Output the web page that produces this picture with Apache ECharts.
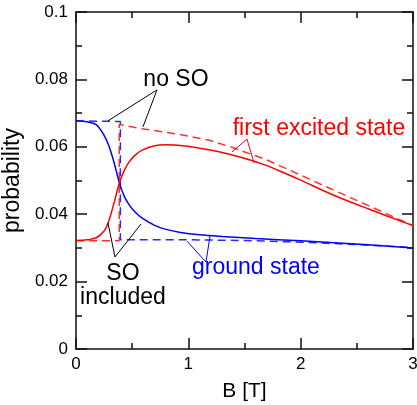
<!DOCTYPE html>
<html><head><meta charset="utf-8">
<script src="https://cdn.jsdelivr.net/npm/echarts@6/dist/echarts.min.js"></script>
<style>html,body{margin:0;padding:0;background:#fff}#c{width:417px;height:405px}</style>
</head><body><div id="c"></div>
<script>
const FONT = '"Liberation Sans", Arial, Helvetica, sans-serif';

// axis ranges / ticks
const xRange = [0, 3];
const yRange = [0, 0.1];
const xInterval = 1;
const yInterval = 0.02;

// ground state, SO included (blue solid)
const groundSO_B = [0, 0.1, 0.18, 0.25, 0.29, 0.34, 0.386, 0.43, 0.475, 0.53, 0.59, 0.7, 0.8, 0.93, 1.1, 1.3, 1.6, 2.0, 2.3, 2.6, 3.0];
const groundSO_P = [0.0677, 0.0674, 0.0666, 0.0634, 0.0605, 0.0552, 0.0493, 0.0453, 0.0427, 0.0405, 0.0388, 0.0367, 0.0355, 0.0346, 0.0339, 0.0334, 0.0328, 0.0321, 0.0315, 0.0309, 0.0300];

// first excited state, SO included (red solid)
const excSO_B = [0, 0.1, 0.18, 0.25, 0.29, 0.34, 0.386, 0.43, 0.475, 0.53, 0.59, 0.7, 0.8, 0.95, 1.1, 1.25, 1.4, 1.55, 1.7, 1.85, 2.0, 2.29, 2.6, 3.0];
const excSO_P = [0.0322, 0.0324, 0.0330, 0.0350, 0.0378, 0.0435, 0.0493, 0.0530, 0.0556, 0.0576, 0.0590, 0.0603, 0.0606, 0.0603, 0.0596, 0.0587, 0.0575, 0.0561, 0.0544, 0.0523, 0.0501, 0.0457, 0.0416, 0.0366];

// ground state, no SO (blue dashed)
const groundNoSO_B = [0, 0.395, 0.395, 1.0, 1.5, 2.0, 2.5, 3.0];
const groundNoSO_P = [0.0677, 0.0675, 0.0324, 0.0324, 0.0322, 0.0317, 0.0310, 0.0301];

// first excited state, no SO (red dashed)
const excNoSO_B = [0, 0.385, 0.385, 0.6, 0.9, 1.18, 1.4, 1.7, 2.0, 2.29, 2.6, 3.0];
const excNoSO_P = [0.0321, 0.0321, 0.0666, 0.0653, 0.0638, 0.0620, 0.0597, 0.0561, 0.0516, 0.0472, 0.0426, 0.0366];

// annotation leader lines (data coordinates: end -> apex -> end)
const noSO_lead = [[0.285, 0.0677], [0.721, 0.0769], [0.596, 0.0659]];
const SOinc_lead = [[0.285, 0.0374], [0.347, 0.0273], [0.579, 0.0371]];
const exc_lead = [[1.389, 0.0585], [1.522, 0.0623], [1.585, 0.0552]];
const gnd_lead = [[0.988, 0.0320], [1.157, 0.0258], [1.193, 0.0335]];

// annotation texts (centre positions, data coordinates)
const labels = [
  {text: 'no SO', at: [0.89, 0.0798], color: '#000'},
  {text: 'first excited state', at: [2.163, 0.0653], color: '#ff0000'},
  {text: 'ground state', at: [1.602, 0.0240], color: '#0000ff'},
  {text: 'SO', at: [0.418, 0.0223], color: '#000'},
  {text: 'included', at: [0.418, 0.0151], color: '#000'}
];

const zip = (a, b) => a.map((v, i) => [v, b[i]]);

const axisCommon = {
  type: 'value',
  axisLine: {show: true, onZero: false, lineStyle: {color: '#111', width: 1.5}},
  axisTick: {show: true, inside: true, length: 11, lineStyle: {color: '#111', width: 1.5}},
  minorTick: {show: true, splitNumber: 2, length: 6, lineStyle: {color: '#111', width: 1.5}},
  splitLine: {show: false},
  minorSplitLine: {show: false}
};

const chart = echarts.init(document.getElementById('c'), null, {renderer: 'canvas'});

const lineS = (data, color, dashed, smooth) => ({
  type: 'line', data, xAxisIndex: 0, yAxisIndex: 0,
  showSymbol: false, symbol: 'none', silent: true, smooth: smooth,
  lineStyle: {color, width: 1.5, type: dashed ? [8, 5] : 'solid'},
  animation: false
});

chart.setOption({
  animation: false,
  backgroundColor: '#fff',
  grid: {left: 76, right: 4, top: 12, bottom: 56, containLabel: false, outerBoundsMode: 'none'},
  xAxis: [
    Object.assign({}, axisCommon, {
      min: xRange[0], max: xRange[1], interval: xInterval, position: 'bottom',
      axisLabel: {show: true, fontSize: 17, color: '#000', margin: 7, fontFamily: FONT, showMinLabel: true, showMaxLabel: true},
      name: 'B [T]', nameLocation: 'middle', nameGap: 32,
      nameTextStyle: {fontSize: 21, color: '#000', fontFamily: FONT}
    }),
    Object.assign({}, axisCommon, {
      min: xRange[0], max: xRange[1], interval: xInterval, position: 'top',
      axisLabel: {show: false}
    })
  ],
  yAxis: [
    Object.assign({}, axisCommon, {
      min: yRange[0], max: yRange[1], interval: yInterval, position: 'left',
      axisLabel: {show: true, fontSize: 17, color: '#000', margin: 8, fontFamily: FONT, showMinLabel: true, showMaxLabel: true,
        formatter: v => String(+v.toFixed(2))},
      name: 'probability', nameLocation: 'middle', nameGap: 38,
      nameTextStyle: {fontSize: 23, color: '#000', fontFamily: FONT}
    }),
    Object.assign({}, axisCommon, {
      min: yRange[0], max: yRange[1], interval: yInterval, position: 'right',
      axisLabel: {show: false}
    })
  ],
  series: [
    lineS(zip(groundNoSO_B, groundNoSO_P), '#2a2aff', true, false),
    lineS(zip(excNoSO_B, excNoSO_P), '#ff3030', true, false),
    lineS(zip(groundSO_B, groundSO_P), '#0000ff', false, 0.35),
    lineS(zip(excSO_B, excSO_P), '#ff0000', false, 0.35),
    Object.assign(lineS(noSO_lead, '#000', false, false), {lineStyle: {color: '#000', width: 1}}),
    Object.assign(lineS(SOinc_lead, '#000', false, false), {lineStyle: {color: '#000', width: 1}}),
    Object.assign(lineS(exc_lead, '#ff0000', false, false), {lineStyle: {color: '#ff0000', width: 1}}),
    Object.assign(lineS(gnd_lead, '#0000ff', false, false), {lineStyle: {color: '#0000ff', width: 1}})
  ]
});

const g = labels.map(l => {
  const p = chart.convertToPixel({xAxisIndex: 0, yAxisIndex: 0}, l.at);
  return {
    type: 'text', x: p[0], y: p[1], silent: true,
    style: {text: l.text, fill: l.color, font: '23px ' + FONT,
      textAlign: 'center', textVerticalAlign: 'middle', align: 'center', verticalAlign: 'middle'}
  };
});
chart.setOption({graphic: g});
</script>
</body></html>
